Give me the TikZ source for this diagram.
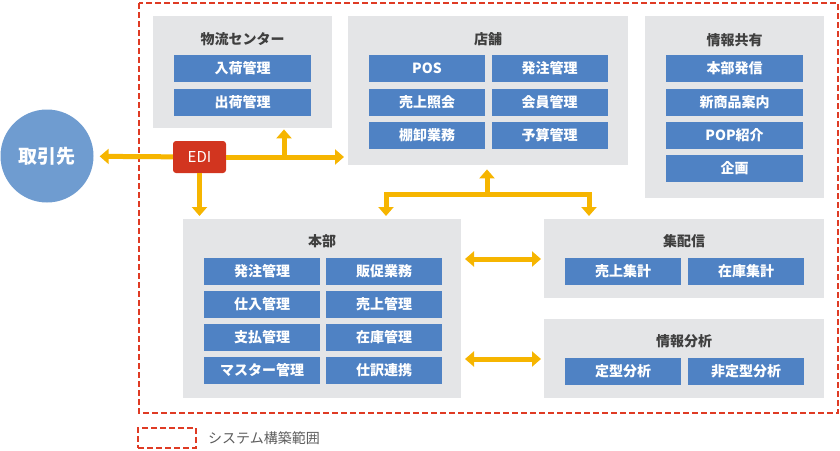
\documentclass[tikz,border=0pt]{standalone}
\usepackage{fontspec}
\setmainfont{Noto Sans CJK JP}
\usetikzlibrary{arrows.meta, positioning}

\definecolor{panelgray}{HTML}{E4E5E7}
\definecolor{itemblue}{HTML}{4F82C4}
\definecolor{partnerblue}{HTML}{6F9CD0}
\definecolor{edired}{HTML}{D2351F}
\definecolor{scopered}{HTML}{DF3B24}
\definecolor{flowyellow}{HTML}{F6B500}
\definecolor{titlegray}{HTML}{3F3F3F}

\tikzset{
  panel/.style={fill=panelgray, anchor=north west, inner sep=0pt},
  paneltitle/.style={text=titlegray, inner sep=0pt, font=\fontsize{14}{16}\selectfont\bfseries},
  itembox/.style={fill=itemblue, text=white, minimum width=#1, minimum height=27pt, inner sep=0pt,
    font=\fontsize{14}{16}\selectfont\bfseries},
  itembox/.default=116pt,
  flow/.style={draw=flowyellow, line width=5pt, -{Triangle[width=15pt,length=9pt]}},
  flowboth/.style={draw=flowyellow, line width=5pt, {Triangle[width=15pt,length=9pt]}-{Triangle[width=15pt,length=9pt]}},
  scopeline/.style={draw=scopered, line width=2pt, dash pattern=on 6pt off 3pt}
}

\begin{document}
\begin{tikzpicture}[x=1pt, y=-1pt]
    \useasboundingbox (0,0) rectangle (840,450);

    % system scope
    \draw[scopeline] (139,3) rectangle (838,413);

    % partner and EDI
    \node[circle, fill=partnerblue, minimum size=93pt, text=white, font=\fontsize{19}{21}\selectfont\bfseries] (partner) at (47,156) {取引先};
    \node[fill=edired, rounded corners=3pt, minimum width=53pt, minimum height=32pt, inner sep=0pt, text=white,
          font=\fontsize{15}{17}\selectfont] (edi) at (199.5,157) {EDI};

    % logistics center
    \node[panel, minimum width=179pt, minimum height=112pt] (logistics) at (153,16) {};
    \node[paneltitle] (logisticstitle) at (242.5,39) {物流センター};
    \node[itembox=137pt] (inbound) at (242.5,68.5) {入荷管理};
    \node[itembox=137pt] (outbound) at (242.5,102) {出荷管理};

    % store
    \node[panel, minimum width=280pt, minimum height=149pt] (store) at (348,16) {};
    \node[paneltitle] (storetitle) at (488,39) {店舗};
    \node[itembox] (pos) at (427,68.5) {POS};
    \node[itembox] (order) at (549.5,68.5) {発注管理};
    \node[itembox] (salesref) at (427,102) {売上照会};
    \node[itembox] (member) at (549.5,102) {会員管理};
    \node[itembox] (stocktake) at (427,135) {棚卸業務};
    \node[itembox] (budget) at (549.5,135) {予算管理};

    % information sharing
    \node[panel, minimum width=179pt, minimum height=182pt] (share) at (645,16) {};
    \node[paneltitle] (sharetitle) at (734.5,40) {情報共有};
    \node[itembox=137pt] (hqnotice) at (734.5,68.5) {本部発信};
    \node[itembox=137pt] (newitem) at (734.5,102) {新商品案内};
    \node[itembox=137pt] (pop) at (734.5,135.5) {POP紹介};
    \node[itembox=137pt] (plan) at (734.5,168.5) {企画};

    % headquarters
    \node[panel, minimum width=278pt, minimum height=179pt] (hq) at (183,219) {};
    \node[paneltitle] (hqtitle) at (322,241) {本部};
    \node[itembox] (hqorder) at (262,271.5) {発注管理};
    \node[itembox] (promo) at (384,271.5) {販促業務};
    \node[itembox] (purchase) at (262,304.5) {仕入管理};
    \node[itembox] (sales) at (384,304.5) {売上管理};
    \node[itembox] (payment) at (262,337.5) {支払管理};
    \node[itembox] (stock) at (384,337.5) {在庫管理};
    \node[itembox] (master) at (262,370.5) {マスター管理};
    \node[itembox] (journal) at (384,370.5) {仕訳連携};

    % collection and distribution
    \node[panel, minimum width=280pt, minimum height=79pt] (collect) at (544,219) {};
    \node[paneltitle] (collecttitle) at (684,241) {集配信};
    \node[itembox] (salestotal) at (623,271.5) {売上集計};
    \node[itembox] (stocktotal) at (746,271.5) {在庫集計};

    % information analysis
    \node[panel, minimum width=280pt, minimum height=79pt] (analysis) at (544,319) {};
    \node[paneltitle] (analysistitle) at (684,341) {情報分析};
    \node[itembox] (fixed) at (623,371.5) {定型分析};
    \node[itembox] (adhoc) at (746,371.5) {非定型分析};

    % EDI flows
    \coordinate (branch) at (284,156);
    \draw[flow, shorten >=6pt] (edi) -- (partner);
    \draw[flow, shorten >=4pt] (edi) -- (edi -| store.west);
    \draw[flow, shorten >=1pt] (branch) -- (branch |- logistics.south);
    \draw[flow, shorten >=3pt] (edi) -- (edi |- hq.north);

    % store to headquarters and collection
    \coordinate (fork) at (487,194);
    \coordinate (hqin) at (386,219);
    \coordinate (collectin) at (589,219);
    \draw[flow, shorten >=4pt] (fork) -- (fork |- store.south);
    \draw[flow, shorten >=3pt] (fork) -| (hqin);
    \draw[flow, shorten >=3pt] (fork) -| (collectin);

    % headquarters links
    \coordinate (hqlinka) at (461,259);
    \coordinate (hqlinkb) at (461,359);
    \draw[flowboth, shorten <=4pt, shorten >=3pt] (hqlinka) -- (hqlinka -| collect.west);
    \draw[flowboth, shorten <=4pt, shorten >=3pt] (hqlinkb) -- (hqlinkb -| analysis.west);

    % legend
    \node[scopeline, minimum width=58pt, minimum height=20pt, inner sep=0pt] (legendkey) at (167,438) {};
    \node[right=11pt of legendkey, inner sep=0pt, text=titlegray!85, font=\fontsize{14}{16}\selectfont] (legendtext) {システム構築範囲};
\end{tikzpicture}
\end{document}
